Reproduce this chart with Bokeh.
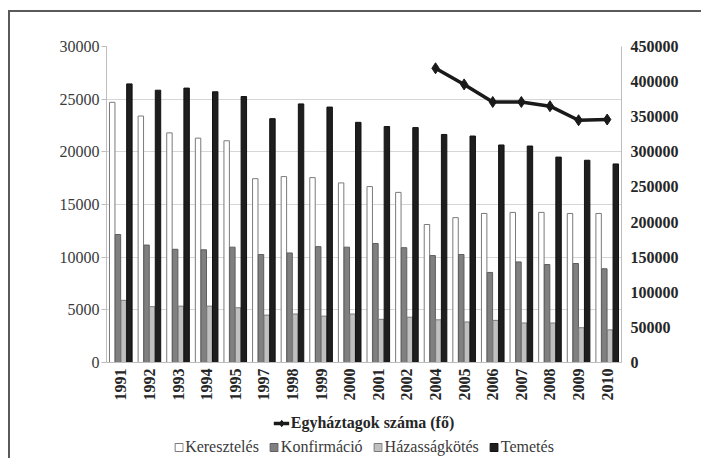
from bokeh.plotting import figure
from bokeh.layouts import column
from bokeh.models import (FactorRange, Range1d, LinearAxis, SingleIntervalTicker,
                          ColumnDataSource, Legend, LegendItem, BasicTickFormatter)
from bokeh.transform import dodge
from bokeh.embed import file_html
from bokeh.resources import INLINE
from math import pi

years = ["1991", "1992", "1993", "1994", "1995", "1997", "1998", "1999", "2000",
         "2001", "2002", "2004", "2005", "2006", "2007", "2008", "2009", "2010"]
kereszteles = [24700, 23400, 21800, 21300, 21050, 17450, 17650, 17550, 17050,
               16700, 16150, 13100, 13750, 14150, 14250, 14250, 14150, 14150]
konfirmacio = [12150, 11150, 10750, 10700, 10950, 10250, 10400, 11000, 10950,
               11300, 10900, 10150, 10250, 8550, 9550, 9300, 9400, 8900]
hazassagkotes = [5900, 5300, 5350, 5350, 5200, 4500, 4600, 4400, 4600,
                 4100, 4300, 4050, 3850, 4000, 3750, 3750, 3300, 3100]
temetes = [26450, 25850, 26050, 25700, 25250, 23150, 24550, 24250, 22800,
           22400, 22300, 21650, 21500, 20650, 20550, 19500, 19200, 18850]
egyhaztagok = [None, None, None, None, None, None, None, None, None,
               None, None, 419000, 396000, 371000, 371000, 365000, 345000, 346000]
series_names = ["Keresztelés", "Konfirmáció", "Házasságkötés", "Temetés"]
line_name = "Egyháztagok száma (fő)"

FONT = "Liberation Serif"
STY = [dict(fill_color="white", line_color="#7a7a7a"),
       dict(fill_color="#808080", line_color="#5e5e5e"),
       dict(fill_color="#c0c0c0", line_color="#7a7a7a"),
       dict(fill_color="#1e1e1e", line_color="#111111")]
LINE_STY = dict(line_color="#1a1a1a", line_width=3.5)
MARK_STY = dict(marker="diamond", size=11, fill_color="#1a1a1a", line_color="#1a1a1a")

src = ColumnDataSource(dict(year=years, k=kereszteles, c=konfirmacio,
                            h=hazassagkotes, t=temetes))
line_years = [y for y, v in zip(years, egyhaztagok) if v is not None]
line_vals = [v for v in egyhaztagok if v is not None]
lsrc = ColumnDataSource(dict(year=line_years, v=line_vals))

p = figure(frame_width=515, frame_height=316, x_range=FactorRange(*years),
           y_range=Range1d(0, 30000), output_backend="svg", toolbar_location=None,
           min_border_left=96, min_border_right=80, min_border_top=34,
           min_border_bottom=42)
p.outline_line_color = None
p.x_range.factor_padding = 0
p.x_range.range_padding = 0
p.extra_y_ranges = {"right": Range1d(0, 450000)}

bw = 0.19
cols = ["k", "c", "h", "t"]
offs = [-0.3, -0.1, 0.1, 0.3]
for col, off, st in zip(cols, offs, STY):
    p.vbar(x=dodge("year", off, range=p.x_range), top=col, width=bw, source=src,
           line_width=1, **st)

p.line(x="year", y="v", source=lsrc, y_range_name="right", **LINE_STY)
p.scatter(x="year", y="v", source=lsrc, y_range_name="right", **MARK_STY)

p.xgrid.grid_line_color = None
p.ygrid.grid_line_color = "#d6d6d6"
p.ygrid.grid_line_width = 1

yl = p.yaxis[0]
yl.ticker = SingleIntervalTicker(interval=5000)
yl.minor_tick_line_color = None
yl.axis_line_color = "#bdbdbd"
yl.major_tick_line_color = "#bdbdbd"
yl.major_tick_out = 5
yl.major_tick_in = 0
yl.major_label_text_font = FONT
yl.major_label_text_font_size = "16px"
yl.major_label_text_color = "#3a3a3a"
yl.major_label_standoff = 2

yr = LinearAxis(y_range_name="right", ticker=SingleIntervalTicker(interval=50000),
                formatter=BasicTickFormatter(use_scientific=False))
yr.minor_tick_line_color = None
yr.axis_line_color = "#bdbdbd"
yr.major_tick_line_color = None
yr.major_tick_out = 0
yr.major_tick_in = 0
yr.major_label_text_font = FONT
yr.major_label_text_font_size = "16px"
yr.major_label_text_font_style = "bold"
yr.major_label_text_color = "#262626"
yr.major_label_standoff = 5
p.add_layout(yr, "right")

xa = p.xaxis[0]
xa.axis_line_color = "#bdbdbd"
xa.major_tick_line_color = None
xa.major_tick_out = 0
xa.minor_tick_line_color = None
xa.major_label_orientation = pi / 2
xa.major_label_text_font = FONT
xa.major_label_text_font_size = "16px"
xa.major_label_text_font_style = "bold"
xa.major_label_text_color = "#262626"
xa.major_label_standoff = 6

# legend strip (separate figure holding only the two legends; its glyphs carry no
# visible data, they only supply the legend swatches)
q = figure(width=p.frame_width + 96 + 80, height=54, x_range=Range1d(0, 1),
           y_range=Range1d(0, 1), output_backend="svg", toolbar_location=None,
           x_axis_location=None, y_axis_location=None,
           min_border_left=17, min_border_right=0, min_border_top=0, min_border_bottom=0)
q.outline_line_color = None
q.xgrid.grid_line_color = None
q.ygrid.grid_line_color = None
nan = float("nan")
swatch = ColumnDataSource(dict(x=[nan], y=[nan]))
lr = q.line(x="x", y="y", source=swatch, **LINE_STY)
lm = q.scatter(x="x", y="y", source=swatch, **MARK_STY)
bars = [q.vbar(x="x", top="y", width=0.1, source=swatch, line_width=1, **st) for st in STY]

leg1 = Legend(items=[LegendItem(label=line_name, renderers=[lr, lm])],
              orientation="horizontal", location="top_center")
leg1.label_text_font = FONT
leg1.label_text_font_size = "16px"
leg1.label_text_font_style = "bold"
leg1.label_text_color = "#262626"
leg1.glyph_width = 16
leg1.glyph_height = 16
leg1.label_standoff = 2
leg1.padding = 0
leg1.margin = 10
leg1.border_line_color = None
leg1.background_fill_alpha = 0

leg2 = Legend(items=[LegendItem(label=n, renderers=[b]) for n, b in zip(series_names, bars)],
              orientation="horizontal", location="bottom_center")
leg2.label_text_font = FONT
leg2.label_text_font_size = "16px"
leg2.label_text_color = "#3a3a3a"
leg2.glyph_width = 10
leg2.glyph_height = 10
leg2.label_standoff = 2
leg2.spacing = 10
leg2.padding = 0
leg2.margin = 2
leg2.border_line_color = None
leg2.background_fill_alpha = 0

q.add_layout(leg1, "center")
q.add_layout(leg2, "center")

lay = column(p, q, spacing=0, margin=(10, 0, 0, 8))
lay.styles = {"border-left": "2px solid #5a5a5a", "border-top": "2px solid #5a5a5a"}

open("out.html", "w").write(file_html(lay, INLINE))
